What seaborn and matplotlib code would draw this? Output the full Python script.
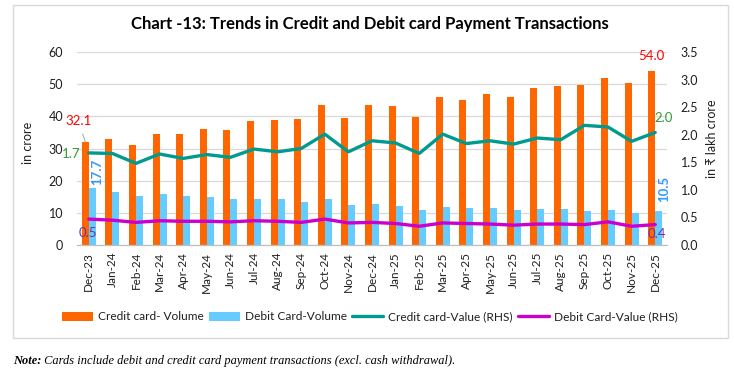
import numpy as np
import pandas as pd
import matplotlib
matplotlib.use("Agg")
import matplotlib.pyplot as plt
import matplotlib.patches as mpatches
import seaborn as sns

months = ['Dec-23', 'Jan-24', 'Feb-24', 'Mar-24', 'Apr-24', 'May-24', 'Jun-24',
          'Jul-24', 'Aug-24', 'Sep-24', 'Oct-24', 'Nov-24', 'Dec-24', 'Jan-25',
          'Feb-25', 'Mar-25', 'Apr-25', 'May-25', 'Jun-25', 'Jul-25', 'Aug-25',
          'Sep-25', 'Oct-25', 'Nov-25', 'Dec-25']
credit_vol = [32.1, 32.9, 31.0, 34.5, 34.5, 36.0, 35.8, 38.4, 39.0, 39.3, 43.4, 39.4,
              43.4, 43.1, 39.7, 45.9, 45.2, 46.9, 45.9, 48.7, 49.4, 49.6, 51.9, 50.5, 54.0]
debit_vol = [17.7, 16.4, 15.2, 15.9, 15.2, 15.0, 14.2, 14.4, 14.2, 13.4, 14.2, 12.3,
             12.8, 12.1, 10.8, 11.9, 11.6, 11.4, 10.8, 11.1, 11.2, 10.5, 10.9, 10.1, 10.5]
credit_val = [1.67, 1.66, 1.48, 1.65, 1.57, 1.64, 1.59, 1.74, 1.69, 1.75, 2.01, 1.69,
              1.89, 1.85, 1.66, 2.01, 1.84, 1.89, 1.83, 1.94, 1.91, 2.17, 2.14, 1.88, 2.04]
debit_val = [0.47, 0.45, 0.41, 0.44, 0.43, 0.43, 0.42, 0.44, 0.43, 0.41, 0.47, 0.40,
             0.41, 0.39, 0.34, 0.40, 0.39, 0.38, 0.36, 0.38, 0.38, 0.37, 0.42, 0.34, 0.37]
series_names = ['Credit card- Volume', 'Debit Card-Volume',
                'Credit card-Value (RHS)', 'Debit Card-Value (RHS)']
title = 'Chart -13: Trends in Credit and Debit card Payment Transactions'
note_head = 'Note:'
note_body = ' Cards include debit and credit card payment transactions (excl. cash withdrawal).'

ORANGE = '#FF6600'
LBLUE = '#66CCFF'
TEAL = '#009A8E'
MAGENTA = '#CC00CC'
TXT = '#1F1F1F'

sns.set_theme(style='white')
plt.rcParams['font.family'] = ['Lato', 'DejaVu Sans']
plt.rcParams['text.color'] = TXT

W, H = 734, 370
fig = plt.figure(figsize=(W / 100, H / 100), dpi=100)
fig.patch.set_facecolor('white')

# outer border of the chart box
fig.add_artist(mpatches.Rectangle((12.5 / W, 1 - 337.5 / H), 715 / W, 332.5 / H,
                                  fill=False, edgecolor='#D9D9D9', lw=1.0,
                                  transform=fig.transFigure))

ax = fig.add_axes([77 / W, 1 - 245 / H, 590 / W, 193 / H])

n = len(months)
df = pd.DataFrame({
    'Month': months * 2,
    'Value': credit_vol + debit_vol,
    'Series': [series_names[0]] * n + [series_names[1]] * n,
})
sns.barplot(data=df, x='Month', y='Value', hue='Series', order=months,
            hue_order=series_names[:2], palette=[ORANGE, LBLUE], saturation=1,
            width=0.6, ax=ax, edgecolor='none')

ax2 = ax.twinx()
xpos = np.arange(n)
sns.lineplot(x=xpos, y=credit_val, ax=ax2, color=TEAL, lw=2.4, label=series_names[2])
sns.lineplot(x=xpos, y=debit_val, ax=ax2, color=MAGENTA, lw=2.4, label=series_names[3])

# axes setup
ax.set_xlim(-0.5, n - 0.5)
ax.set_ylim(0, 60)
ax.set_yticks(np.arange(0, 61, 10))
ax2.set_ylim(0, 3.5)
ax2.set_yticks(np.arange(0, 3.51, 0.5))
ax2.set_yticklabels([f'{v:.1f}' for v in np.arange(0, 3.51, 0.5)])

ax.set_axisbelow(True)
ax.yaxis.grid(True, color='#D9D9D9', lw=0.9)
ax.xaxis.grid(False)
for s in ['top', 'left', 'right']:
    ax.spines[s].set_visible(False)
ax.spines['bottom'].set_color('#BFBFBF')
ax.spines['bottom'].set_linewidth(0.9)
for s in ax2.spines.values():
    s.set_visible(False)

ax.set_xticks(xpos)
ax.set_xticklabels(months, rotation=90, fontsize=8.5, color=TXT)
ax.tick_params(axis='x', which='major', length=0, pad=5)
ax.set_xticks(np.arange(-0.5, n, 1.0), minor=True)
ax.tick_params(axis='x', which='minor', length=5, color='#BFBFBF', width=0.9)
ax.tick_params(axis='y', length=0, pad=10, labelsize=9, labelcolor=TXT)
ax2.tick_params(axis='y', length=0, pad=10, labelsize=9, labelcolor=TXT)

ax.set_xlabel('')
ax.set_ylabel('in crore', fontsize=9, color=TXT)
ax.yaxis.set_label_coords((34 - 77) / 590, 0.53)
ax2.set_ylabel('in \u20b9 lakh crore', fontsize=9, color=TXT, rotation=90,
               family=['Lato', 'DejaVu Sans'])
ax2.yaxis.set_label_coords((706 - 77) / 590, 0.55)

# data labels
last = n - 1
ax.annotate(f'{credit_vol[0]:.1f}', xy=(-0.15, credit_vol[0]), xytext=(-7, 21),
            textcoords='offset pixels', ha='center', va='center', color='#FF0000',
            fontsize=9.5, annotation_clip=False,
            arrowprops=dict(arrowstyle='-', color='#A6A6A6', lw=0.7,
                            shrinkA=3, shrinkB=0))
ax.annotate(f'{credit_vol[last]:.1f}', xy=(last - 0.15, credit_vol[last]), xytext=(0, 15),
            textcoords='offset pixels', ha='center', va='center', color='#FF0000',
            fontsize=9.5, annotation_clip=False)
ax.annotate(f'{debit_vol[0]:.1f}', xy=(0.15, debit_vol[0]), xytext=(5, 3),
            textcoords='offset pixels', ha='center', va='bottom', rotation=90,
            color='#3399FF', fontsize=9.5, fontweight='bold', annotation_clip=False)
ax.annotate(f'{debit_vol[last]:.1f}', xy=(last + 0.15, debit_vol[last]), xytext=(5, 9),
            textcoords='offset pixels', ha='center', va='bottom', rotation=90,
            color='#3399FF', fontsize=9.5, fontweight='bold', annotation_clip=False)
ax2.annotate(f'{credit_val[0]:.1f}', xy=(0, credit_val[0]), xytext=(-8, -1),
             textcoords='offset pixels', ha='right', va='center', color='#339933',
             fontsize=9.5, annotation_clip=False)
ax2.annotate(f'{credit_val[last]:.1f}', xy=(last, credit_val[last]), xytext=(8, 15),
             textcoords='offset pixels', ha='center', va='center', color='#339933',
             fontsize=9.5, annotation_clip=False)
ax2.annotate(f'{debit_val[0]:.1f}', xy=(0, debit_val[0]), xytext=(-1, -14),
             textcoords='offset pixels', ha='center', va='center', color='#7030A0',
             fontsize=9.5, annotation_clip=False)
ax2.annotate(f'{debit_val[last]:.1f}', xy=(last, debit_val[last]), xytext=(2, -9),
             textcoords='offset pixels', ha='center', va='center', color='#7030A0',
             fontsize=9.5, annotation_clip=False)

# legend
h1, l1 = ax.get_legend_handles_labels()
h2, l2 = ax2.get_legend_handles_labels()
if ax.get_legend() is not None:
    ax.get_legend().remove()
if ax2.get_legend() is not None:
    ax2.get_legend().remove()
fig.legend(h1 + h2, l1 + l2, loc='center', bbox_to_anchor=(370 / W, 1 - 317 / H),
           ncol=4, frameon=False, fontsize=8.6, handlelength=2.6, handleheight=0.8,
           handletextpad=0.4, columnspacing=0.45, borderaxespad=0)

# title
fig.text(370 / W, 1 - 24 / H, title, ha='center', va='center', fontsize=12,
         fontweight='bold', color='black')

# note
t1 = fig.text(13 / W, 1 - 361 / H, note_head, ha='left', va='center', fontsize=8.9,
              style='italic', fontweight='bold', family=['Liberation Serif', 'DejaVu Serif'],
              color='black')
fig.canvas.draw()
bb = t1.get_window_extent(renderer=fig.canvas.get_renderer())
fig.text(bb.x1 / W, 1 - 361 / H, note_body, ha='left', va='center', fontsize=8.9,
         style='italic', family=['Liberation Serif', 'DejaVu Serif'], color='black')

fig.savefig('out.png', dpi=100, facecolor='white')
